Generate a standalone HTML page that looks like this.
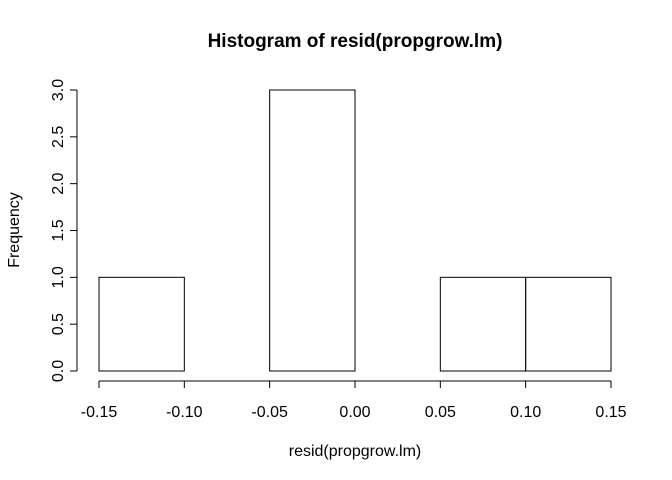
<!DOCTYPE html>
<html><head><meta charset="utf-8"><style>body{margin:0;background:#fff}svg{display:block}text{font-family:"Liberation Sans",sans-serif;fill:#000}</style></head>
<body>
<svg id="chart" width="672" height="480" xmlns="http://www.w3.org/2000/svg">
<text x="355" y="47" text-anchor="middle" font-size="19" font-weight="bold">Histogram of resid(propgrow.lm)</text>
<text x="355" y="456" text-anchor="middle" font-size="16">resid(propgrow.lm)</text>
<text transform="translate(19,230) rotate(-90)" text-anchor="middle" font-size="16">Frequency</text>
<g id="bars"></g><g id="xaxis"></g><g id="yaxis"></g>
</svg>
<script>
const binStarts=[-0.15,-0.10,-0.05,0.00,0.05,0.10];
const binWidth=0.05;
const counts=[1,0,3,0,1,1];
const xTicks=[-0.15,-0.10,-0.05,0.00,0.05,0.10,0.15];
const xTickLabels=["-0.15","-0.10","-0.05","0.00","0.05","0.10","0.15"];
const yTicks=[0,0.5,1,1.5,2,2.5,3];
const yTickLabels=["0.0","0.5","1.0","1.5","2.0","2.5","3.0"];
const NS="http://www.w3.org/2000/svg";
const X=v=>99+(v+0.15)/0.30*512;
const Y=v=>371-v/3*281;
function mk(t,a,p){const e=document.createElementNS(NS,t);for(const k in a)e.setAttribute(k,a[k]);p.appendChild(e);return e;}
const bars=document.getElementById('bars');
binStarts.forEach((s,i)=>{
  if(counts[i]<=0)return;
  const r=mk('rect',{x:X(s),y:Y(counts[i]),width:X(s+binWidth)-X(s),height:Y(0)-Y(counts[i]),fill:'none',stroke:'#000','stroke-width':1},bars);
  
  
});
const xa=document.getElementById('xaxis');


mk('line',{x1:X(xTicks[0]),x2:X(xTicks[xTicks.length-1]),y1:381,y2:381,stroke:'#000'},xa);
xTicks.forEach((v,i)=>{
  mk('line',{x1:X(v),x2:X(v),y1:381,y2:388,stroke:'#000'},xa);
  const t=mk('text',{x:X(v),y:417,'text-anchor':'middle','font-size':16},xa);
  t.textContent=xTickLabels[i];
  
  
});
const ya=document.getElementById('yaxis');


mk('line',{x1:77,x2:77,y1:Y(yTicks[0]),y2:Y(yTicks[yTicks.length-1]),stroke:'#000'},ya);
yTicks.forEach((v,i)=>{
  mk('line',{x1:70,x2:77,y1:Y(v),y2:Y(v),stroke:'#000'},ya);
  const t=mk('text',{transform:`translate(63,${Y(v)}) rotate(-90)`,'text-anchor':'middle','font-size':16},ya);
  t.textContent=yTickLabels[i];
  
  
});
</script>
</body></html>
